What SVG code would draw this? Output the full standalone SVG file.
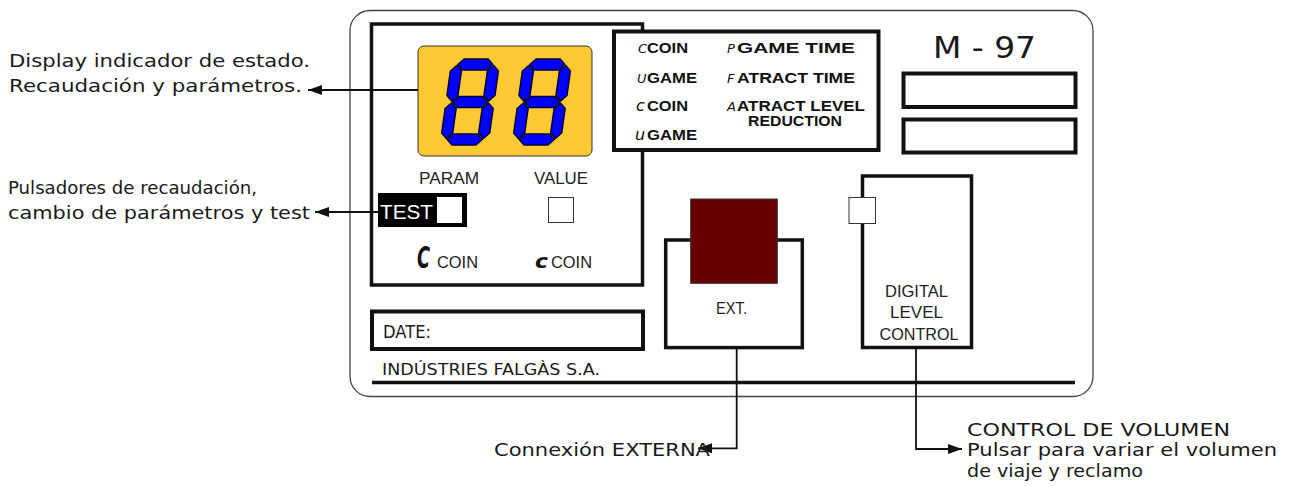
<svg xmlns="http://www.w3.org/2000/svg" width="1291" height="486" viewBox="0 0 1291 486">
<style>
.ann{font-family:"DejaVu Sans",sans-serif;font-size:18px;fill:#1a1a1a}
.sq{font-family:"DejaVu Sans",sans-serif;fill:#1a1a1a}
.lbl{font-family:"Liberation Sans",Arial,sans-serif;font-size:16px;fill:#222}
.leg{font-family:"Liberation Sans",Arial,sans-serif;font-weight:bold;font-size:15px;fill:#111}
.pre{font-family:"DejaVu Sans",sans-serif;font-style:italic;font-size:13px;fill:#111}
.prel{font-family:"DejaVu Sans",sans-serif;font-style:italic;font-size:16px;fill:#111}
.thick{fill:#fff;stroke:#111;stroke-width:3.5}
.conn{fill:none;stroke:#111;stroke-width:1.8}
.segs polygon{fill:#0000ff;stroke:#00003a;stroke-width:1.5;stroke-linejoin:round}
</style>
<defs>
<marker id="arr" markerUnits="userSpaceOnUse" viewBox="0 0 14 10" refX="14" refY="5" markerWidth="14" markerHeight="10" orient="auto">
<path d="M0,0 L14,5 L0,10 z" fill="#111"/>
</marker>
<g id="digit8" class="segs">
<polygon points="6.5,-80.5 12,-86 36,-86 41.5,-80.5 36,-75 12,-75"/>
<polygon points="6.5,-43 12,-48.5 36,-48.5 41.5,-43 36,-37.5 12,-37.5"/>
<polygon points="6.5,-5.5 12,-11 36,-11 41.5,-5.5 36,0 12,0"/>
<polygon points="5.5,-79.5 11,-74 11,-49.5 5.5,-44 0,-49.5 0,-74"/>
<polygon points="5.5,-42 11,-36.5 11,-12 5.5,-6.5 0,-12 0,-36.5"/>
<polygon points="42.5,-79.5 48,-74 48,-49.5 42.5,-44 37,-49.5 37,-74"/>
<polygon points="42.5,-42 48,-36.5 48,-12 42.5,-6.5 37,-12 37,-36.5"/>
</g>
</defs>
<rect width="1291" height="486" fill="#fff"/>

<g id="panel">
<rect x="350" y="10.5" width="743" height="386" rx="20" fill="#fff" stroke="#444" stroke-width="1.3"/>
<line x1="372" y1="382.5" x2="1075" y2="382.5" stroke="#111" stroke-width="3.5"/>
<text class="sq" x="382" y="375" font-size="16.5" textLength="218" lengthAdjust="spacingAndGlyphs">INDÚSTRIES FALGÀS S.A.</text>
</g>

<g id="main-box">
<rect class="thick" x="371.5" y="24" width="271" height="261"/>
</g>

<g id="display">
<rect x="418" y="46" width="174" height="110" rx="6" fill="#ffc933" stroke="#333" stroke-width="1"/>
<use href="#digit8" transform="translate(440,145) skewX(-8)"/>
<use href="#digit8" transform="translate(512,145) skewX(-8)"/>
</g>

<g id="buttons">
<text class="lbl" x="419" y="184" textLength="60" lengthAdjust="spacingAndGlyphs">PARAM</text>
<text class="lbl" x="534" y="184" textLength="54" lengthAdjust="spacingAndGlyphs">VALUE</text>
<rect x="378" y="193" width="89" height="34" fill="#000"/>
<text x="380" y="219" font-family="Liberation Sans, Arial, sans-serif" font-size="21" fill="#fff" textLength="53" lengthAdjust="spacingAndGlyphs">TEST</text>
<rect x="437" y="197" width="25" height="26" fill="#fff"/>
<rect x="548.5" y="197.5" width="25" height="25" fill="#fff" stroke="#333" stroke-width="1"/>
<text x="417" y="268" font-family="DejaVu Sans, sans-serif" font-weight="bold" font-style="italic" font-size="31" fill="#111" textLength="13" lengthAdjust="spacingAndGlyphs">C</text>
<text class="lbl" x="437" y="268" textLength="41" lengthAdjust="spacingAndGlyphs">COIN</text>
<text x="535" y="268" font-family="DejaVu Sans, sans-serif" font-weight="bold" font-style="italic" font-size="19" fill="#111" textLength="13" lengthAdjust="spacingAndGlyphs">c</text>
<text class="lbl" x="551" y="268" textLength="41" lengthAdjust="spacingAndGlyphs">COIN</text>
</g>

<g id="legend">
<rect x="614" y="31.5" width="264.5" height="118.5" fill="#fff" stroke="#111" stroke-width="4"/>
<text class="pre" x="638" y="53">C</text>
<text class="leg" x="647" y="53" textLength="41" lengthAdjust="spacingAndGlyphs">COIN</text>
<text class="pre" x="637" y="83">U</text>
<text class="leg" x="647" y="83" textLength="50" lengthAdjust="spacingAndGlyphs">GAME</text>
<text class="prel" x="636" y="111">c</text>
<text class="leg" x="647" y="111" textLength="41" lengthAdjust="spacingAndGlyphs">COIN</text>
<text class="prel" x="635" y="140">u</text>
<text class="leg" x="647" y="140" textLength="50" lengthAdjust="spacingAndGlyphs">GAME</text>
<text class="pre" x="727" y="53">P</text>
<text class="leg" x="737" y="53" textLength="118" lengthAdjust="spacingAndGlyphs">GAME TIME</text>
<text class="pre" x="727" y="83">F</text>
<text class="leg" x="737" y="83" textLength="118" lengthAdjust="spacingAndGlyphs">ATRACT TIME</text>
<text class="pre" x="727" y="111">A</text>
<text class="leg" x="737" y="111" textLength="128" lengthAdjust="spacingAndGlyphs">ATRACT LEVEL</text>
<text class="leg" x="748" y="126" textLength="94" lengthAdjust="spacingAndGlyphs">REDUCTION</text>
</g>

<g id="model">
<text class="sq" x="933" y="58" font-size="31" textLength="103" lengthAdjust="spacingAndGlyphs">M - 97</text>
<rect x="903.5" y="73.5" width="172" height="33.5" fill="#fff" stroke="#111" stroke-width="4"/>
<rect x="903.5" y="119.5" width="172" height="33" fill="#fff" stroke="#111" stroke-width="4"/>
</g>

<g id="date">
<rect x="372" y="311.5" width="271" height="37.5" fill="#fff" stroke="#111" stroke-width="4"/>
<text class="sq" x="383" y="338" font-size="17" textLength="48" lengthAdjust="spacingAndGlyphs">DATE:</text>
</g>

<g id="ext">
<rect class="thick" x="665.7" y="240" width="136.6" height="107.6"/>
<rect x="690.7" y="199" width="86.6" height="84.3" fill="#660000" stroke="#333" stroke-width="1"/>
<text class="lbl" x="716" y="314" textLength="31" lengthAdjust="spacingAndGlyphs">EXT.</text>
</g>

<g id="level-control">
<rect class="thick" x="862.5" y="176" width="109" height="171.5"/>
<rect x="849" y="197.5" width="26.5" height="26" fill="#fff" stroke="#333" stroke-width="1"/>
<text class="lbl" x="885" y="296.5" textLength="63" lengthAdjust="spacingAndGlyphs">DIGITAL</text>
<text class="lbl" x="890" y="318.3" textLength="53" lengthAdjust="spacingAndGlyphs">LEVEL</text>
<text class="lbl" x="879.5" y="340" textLength="79" lengthAdjust="spacingAndGlyphs">CONTROL</text>
</g>

<g id="connectors">
<path class="conn" d="M418,90 H308" marker-end="url(#arr)"/>
<path class="conn" d="M378,212 H315" marker-end="url(#arr)"/>
<path class="conn" d="M736.7,349 V448.3 H698" marker-end="url(#arr)"/>
<path class="conn" d="M916,349 V449 H962" marker-end="url(#arr)"/>
</g>

<g id="annotations">
<text class="ann" x="9" y="67" textLength="301" lengthAdjust="spacingAndGlyphs">Display indicador de estado.</text>
<text class="ann" x="9" y="92" textLength="293" lengthAdjust="spacingAndGlyphs">Recaudación y parámetros.</text>
<text class="ann" x="8" y="194" textLength="249" lengthAdjust="spacingAndGlyphs">Pulsadores de recaudación,</text>
<text class="ann" x="8" y="219" textLength="302" lengthAdjust="spacingAndGlyphs">cambio de parámetros y test</text>
<text class="ann" x="494" y="456" textLength="216" lengthAdjust="spacingAndGlyphs">Connexión EXTERNA</text>
<text class="ann" x="967" y="436" textLength="263" lengthAdjust="spacingAndGlyphs">CONTROL DE VOLUMEN</text>
<text class="ann" x="967" y="456" textLength="310" lengthAdjust="spacingAndGlyphs">Pulsar para variar el volumen</text>
<text class="ann" x="967" y="477" textLength="176" lengthAdjust="spacingAndGlyphs">de viaje y reclamo</text>
</g>
</svg>
